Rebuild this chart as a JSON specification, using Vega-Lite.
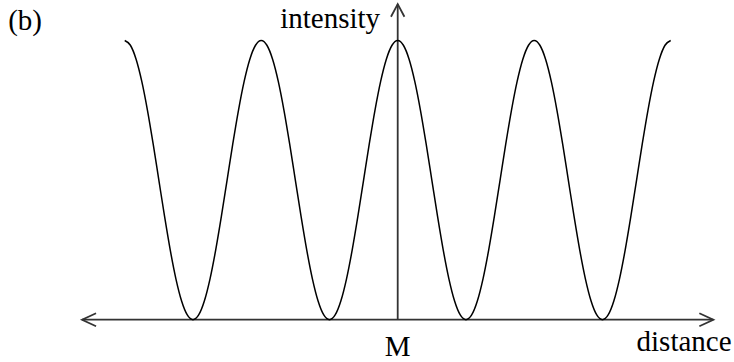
{
  "$schema": "https://vega.github.io/schema/vega-lite/v6.json",
  "width": 734,
  "height": 362,
  "padding": 0,
  "autosize": {"type": "none"},
  "background": "white",
  "config": {"view": {"stroke": null}},
  "datasets": {
    "curve": [
      {"x": -48, "y": 100}, {"x": -47, "y": 98.296}, {"x": -46, "y": 93.301}, {"x": -45, "y": 85.355}, {"x": -44, "y": 75}, {"x": -43, "y": 62.941}, {"x": -42, "y": 50}, {"x": -41, "y": 37.059}, {"x": -40, "y": 25}, {"x": -39, "y": 14.645}, {"x": -38, "y": 6.699}, {"x": -37, "y": 1.704},
      {"x": -36, "y": 0}, {"x": -35, "y": 1.704}, {"x": -34, "y": 6.699}, {"x": -33, "y": 14.645}, {"x": -32, "y": 25}, {"x": -31, "y": 37.059}, {"x": -30, "y": 50}, {"x": -29, "y": 62.941}, {"x": -28, "y": 75}, {"x": -27, "y": 85.355}, {"x": -26, "y": 93.301}, {"x": -25, "y": 98.296},
      {"x": -24, "y": 100}, {"x": -23, "y": 98.296}, {"x": -22, "y": 93.301}, {"x": -21, "y": 85.355}, {"x": -20, "y": 75}, {"x": -19, "y": 62.941}, {"x": -18, "y": 50}, {"x": -17, "y": 37.059}, {"x": -16, "y": 25}, {"x": -15, "y": 14.645}, {"x": -14, "y": 6.699}, {"x": -13, "y": 1.704},
      {"x": -12, "y": 0}, {"x": -11, "y": 1.704}, {"x": -10, "y": 6.699}, {"x": -9, "y": 14.645}, {"x": -8, "y": 25}, {"x": -7, "y": 37.059}, {"x": -6, "y": 50}, {"x": -5, "y": 62.941}, {"x": -4, "y": 75}, {"x": -3, "y": 85.355}, {"x": -2, "y": 93.301}, {"x": -1, "y": 98.296},
      {"x": 0, "y": 100}, {"x": 1, "y": 98.296}, {"x": 2, "y": 93.301}, {"x": 3, "y": 85.355}, {"x": 4, "y": 75}, {"x": 5, "y": 62.941}, {"x": 6, "y": 50}, {"x": 7, "y": 37.059}, {"x": 8, "y": 25}, {"x": 9, "y": 14.645}, {"x": 10, "y": 6.699}, {"x": 11, "y": 1.704},
      {"x": 12, "y": 0}, {"x": 13, "y": 1.704}, {"x": 14, "y": 6.699}, {"x": 15, "y": 14.645}, {"x": 16, "y": 25}, {"x": 17, "y": 37.059}, {"x": 18, "y": 50}, {"x": 19, "y": 62.941}, {"x": 20, "y": 75}, {"x": 21, "y": 85.355}, {"x": 22, "y": 93.301}, {"x": 23, "y": 98.296},
      {"x": 24, "y": 100}, {"x": 25, "y": 98.296}, {"x": 26, "y": 93.301}, {"x": 27, "y": 85.355}, {"x": 28, "y": 75}, {"x": 29, "y": 62.941}, {"x": 30, "y": 50}, {"x": 31, "y": 37.059}, {"x": 32, "y": 25}, {"x": 33, "y": 14.645}, {"x": 34, "y": 6.699}, {"x": 35, "y": 1.704},
      {"x": 36, "y": 0}, {"x": 37, "y": 1.704}, {"x": 38, "y": 6.699}, {"x": 39, "y": 14.645}, {"x": 40, "y": 25}, {"x": 41, "y": 37.059}, {"x": 42, "y": 50}, {"x": 43, "y": 62.941}, {"x": 44, "y": 75}, {"x": 45, "y": 85.355}, {"x": 46, "y": 93.301}, {"x": 47, "y": 98.296},
      {"x": 48, "y": 100}
    ],
    "axes": [
      {"part": "xaxis", "o": 1, "x": -55.5, "y": 0},
      {"part": "xaxis", "o": 2, "x": 55.5, "y": 0},
      {"part": "leftarrow", "o": 1, "x": -53.04, "y": 2.33},
      {"part": "leftarrow", "o": 2, "x": -55.5, "y": 0},
      {"part": "leftarrow", "o": 3, "x": -53.04, "y": -2.33},
      {"part": "rightarrow", "o": 1, "x": 53.04, "y": 2.33},
      {"part": "rightarrow", "o": 2, "x": 55.5, "y": 0},
      {"part": "rightarrow", "o": 3, "x": 53.04, "y": -2.33},
      {"part": "yaxis", "o": 1, "x": 0, "y": 0},
      {"part": "yaxis", "o": 2, "x": 0, "y": 113.0},
      {"part": "toparrow", "o": 1, "x": -1.18, "y": 108.5},
      {"part": "toparrow", "o": 2, "x": 0, "y": 113.0},
      {"part": "toparrow", "o": 3, "x": 1.18, "y": 108.5}
    ],
    "labels": [
      {"label": "(b)", "x": -68.5, "y": 103.6},
      {"label": "intensity", "x": -3.1, "y": 104.6},
      {"label": "M", "x": 0, "y": -12.9},
      {"label": "distance", "x": 58.7, "y": -11.1}
    ]
  },
  "encoding": {
    "x": {"field": "x", "type": "quantitative", "scale": {"domain": [-69.93, 59.13], "nice": false, "zero": false}, "axis": null},
    "y": {"field": "y", "type": "quantitative", "scale": {"domain": [-15.15, 114.5], "nice": false, "zero": false}, "axis": null}
  },
  "layer": [
    {
      "data": {"name": "axes"},
      "mark": {"type": "line", "color": "#333333", "strokeWidth": 1.8, "clip": false},
      "encoding": {"detail": {"field": "part"}, "order": {"field": "o"}}
    },
    {
      "data": {"name": "curve"},
      "mark": {"type": "line", "color": "black", "strokeWidth": 1.5, "interpolate": "monotone"},
      "encoding": {"order": {"field": "x"}}
    },
    {
      "data": {"name": "labels"},
      "transform": [{"filter": "datum.label === '(b)'"}],
      "mark": {"type": "text", "align": "left", "baseline": "alphabetic", "font": "Liberation Serif", "fontSize": 29, "color": "black"},
      "encoding": {"text": {"field": "label"}}
    },
    {
      "data": {"name": "labels"},
      "transform": [{"filter": "datum.label === 'intensity' || datum.label === 'distance'"}],
      "mark": {"type": "text", "align": "right", "baseline": "alphabetic", "font": "Liberation Serif", "fontSize": 29, "color": "black"},
      "encoding": {"text": {"field": "label"}}
    },
    {
      "data": {"name": "labels"},
      "transform": [{"filter": "datum.label === 'M'"}],
      "mark": {"type": "text", "align": "center", "baseline": "alphabetic", "font": "Liberation Serif", "fontSize": 29, "color": "black"},
      "encoding": {"text": {"field": "label"}}
    }
  ]
}
